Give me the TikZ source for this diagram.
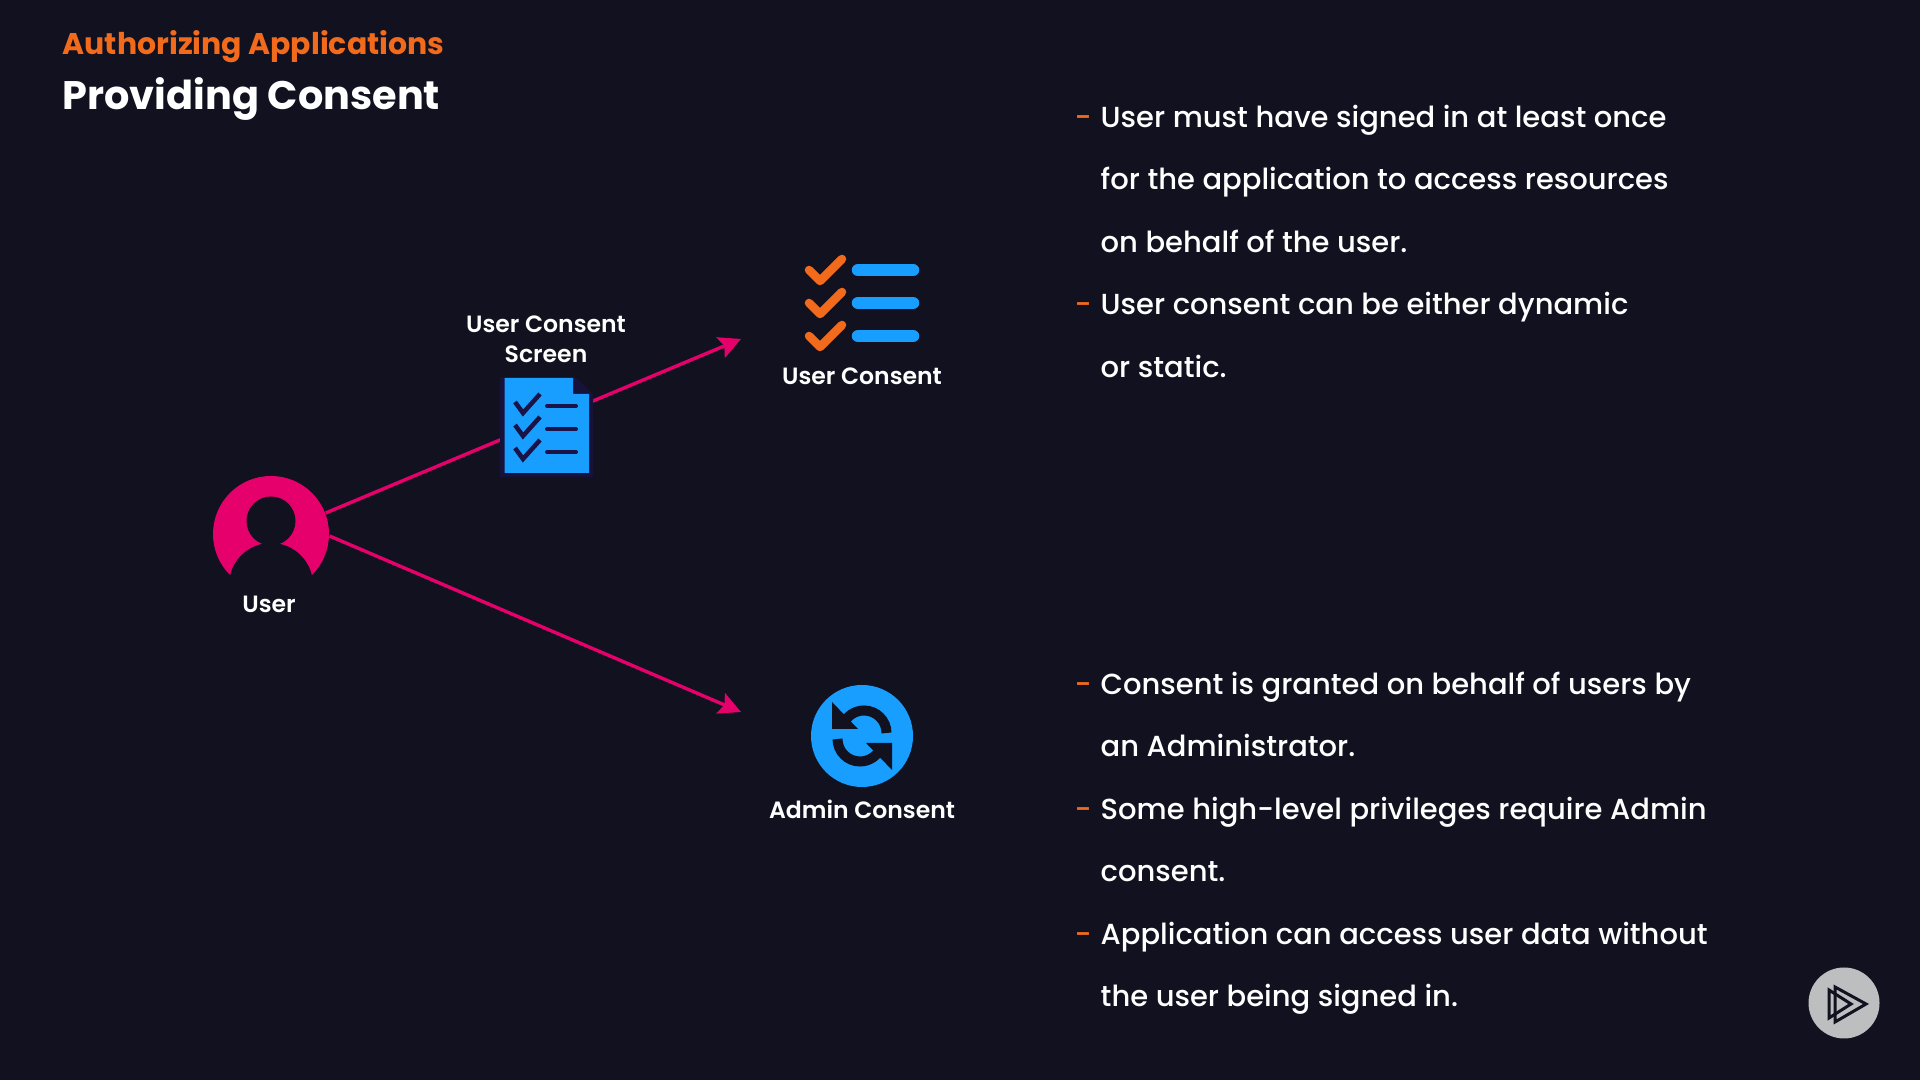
\documentclass[tikz,border=0pt]{standalone}
\usepackage{fontspec}
\usetikzlibrary{arrows.meta}
\setmainfont{Poppins}[UprightFont=* Medium, BoldFont=* SemiBold]
\newfontfamily\headfont{Poppins}[UprightFont=* Bold]
\definecolor{mbg}{HTML}{12111F}
\definecolor{mpink}{HTML}{E6006B}
\definecolor{morange}{HTML}{F26B1D}
\definecolor{mblue}{HTML}{189EFF}
\definecolor{mnavy}{HTML}{1A1348}
\definecolor{mrim}{HTML}{16123A}
\definecolor{mgrey}{HTML}{BDBEC0}
\tikzset{
  bodyline/.style = {anchor = base west, inner sep = 0, text = white, font = \fontsize{8.25}{10}\selectfont},
  bodydash/.style = {anchor = base west, inner sep = 0, text = morange, font = \fontsize{8.25}{10}\selectfont},
  iconlabel/.style = {anchor = base, inner sep = 0, text = white, font = \fontsize{6.7}{8}\selectfont\bfseries},
  consentline/.style = {mpink, line width = 0.034cm, -{Stealth[length = 0.22cm, width = 0.22cm, inset = 0.04cm]}},
  listcheck/.style = {morange, line width = 0.085cm, line cap = round, line join = round},
  listbar/.style = {mblue, line width = 0.125cm, line cap = round},
  doccheck/.style = {mnavy, line width = 0.045cm},
  docbar/.style = {mnavy, line width = 0.04cm, line cap = round},
  logotri/.style = {mbg, line width = 0.03cm, line join = miter}
}
\begin{document}
\begin{tikzpicture}
    \fill [mbg] (0, 0) rectangle (19.2, 10.8);
    \useasboundingbox (0, 0) rectangle (19.2, 10.8);

    \node [anchor = base west, inner sep = 0, text = morange, font = \fontsize{8.52}{10}\selectfont\headfont] (section) at (0.62, 10.25) {Authorizing Applications};
    \node [anchor = base west, inner sep = 0, text = white, font = \fontsize{11.33}{13}\selectfont\headfont] (title) at (0.62, 9.70) {Providing Consent};

    \coordinate (userend) at (7.41, 7.41);
    \coordinate (adminend) at (7.41, 3.68);

    \node [circle, fill = mpink, inner sep = 0, minimum size = 1.16cm] (user) at (2.71, 5.46) {};
    \draw [consentline] (user.21) -- (userend);
    \draw [consentline] (user.-2) -- (adminend);
    \node [circle, fill = mbg, inner sep = 0, minimum size = 0.49cm] (head) at (2.71, 5.59) {};
    \node [circle, fill = mbg, inner sep = 0, minimum size = 0.84cm] (body) at (2.71, 4.95) {};
    \node [iconlabel] (userlabel) at (2.69, 4.67) {User};

    \fill [mrim] (5.00, 7.03) -- (5.75, 7.03) -- (5.93, 6.86) -- (5.93, 6.03) -- (5.00, 6.03) -- cycle;
    \fill [mblue] (5.045, 7.02) -- (5.73, 7.02) -- (5.73, 6.86) -- (5.89, 6.86) -- (5.89, 6.07) -- (5.045, 6.07) -- cycle;
    \draw [doccheck] (5.15, 6.78) -- (5.23, 6.67) -- (5.40, 6.86);
    \draw [doccheck] (5.15, 6.55) -- (5.23, 6.44) -- (5.40, 6.63);
    \draw [doccheck] (5.15, 6.32) -- (5.23, 6.21) -- (5.40, 6.40);
    \draw [docbar] (5.47, 6.74) -- (5.76, 6.74);
    \draw [docbar] (5.47, 6.51) -- (5.76, 6.51);
    \draw [docbar] (5.47, 6.28) -- (5.76, 6.28);
    \node [iconlabel] (screenlabela) at (5.46, 7.47) {User Consent};
    \node [iconlabel] (screenlabelb) at (5.46, 7.17) {Screen};

    \draw [listcheck] (8.09, 8.10) -- (8.20, 7.99) -- (8.42, 8.21);
    \draw [listcheck] (8.09, 7.77) -- (8.20, 7.66) -- (8.42, 7.88);
    \draw [listcheck] (8.09, 7.44) -- (8.20, 7.33) -- (8.42, 7.55);
    \draw [listbar] (8.58, 8.10) -- (9.13, 8.10);
    \draw [listbar] (8.58, 7.77) -- (9.13, 7.77);
    \draw [listbar] (8.58, 7.44) -- (9.13, 7.44);
    \node [iconlabel] (consentlabel) at (8.62, 6.95) {User Consent};

    \node [circle, fill = mblue, inner sep = 0, minimum size = 1.02cm] (admin) at (8.62, 3.44) {};
    \draw [mbg, line width = 0.1cm] (8.64, 3.47) ++(0 : 0.225) arc (0 : 160 : 0.225);
    \fill [mbg] (8.32, 3.78) -- (8.32, 3.51) -- (8.58, 3.51) -- cycle;
    \draw [mbg, line width = 0.1cm] (8.60, 3.41) ++(180 : 0.225) arc (180 : 340 : 0.225);
    \fill [mbg] (8.92, 3.10) -- (8.92, 3.37) -- (8.66, 3.37) -- cycle;
    \node [iconlabel] (adminlabel) at (8.62, 2.61) {Admin Consent};

    \node [bodydash] (dasha) at (10.74, 9.52) {-};
    \node [bodyline] (linea) at (11.00, 9.52) {User must have signed in at least once};
    \node [bodyline] (lineb) at (11.00, 8.90) {for the application to access resources};
    \node [bodyline] (linec) at (11.00, 8.27) {on behalf of the user.};
    \node [bodydash] (dashb) at (10.74, 7.65) {-};
    \node [bodyline] (lined) at (11.00, 7.65) {User consent can be either dynamic};
    \node [bodyline] (linee) at (11.00, 7.02) {or static.};

    \node [bodydash] (dashc) at (10.74, 3.85) {-};
    \node [bodyline] (linef) at (11.00, 3.85) {Consent is granted on behalf of users by};
    \node [bodyline] (lineg) at (11.00, 3.23) {an Administrator.};
    \node [bodydash] (dashd) at (10.74, 2.60) {-};
    \node [bodyline] (lineh) at (11.00, 2.60) {Some high-level privileges require Admin};
    \node [bodyline] (linei) at (11.00, 1.98) {consent.};
    \node [bodydash] (dashe) at (10.74, 1.35) {-};
    \node [bodyline] (linej) at (11.00, 1.35) {Application can access user data without};
    \node [bodyline] (linek) at (11.00, 0.73) {the user being signed in.};

    \node [circle, fill = mgrey, inner sep = 0, minimum size = 0.71cm] (logo) at (18.44, 0.77) {};
    \draw [logotri] (18.29, 0.90) -- (18.29, 0.62) -- (18.51, 0.76) -- cycle;
    \draw [logotri] (18.35, 0.93) -- (18.35, 0.58) -- (18.66, 0.76) -- cycle;
\end{tikzpicture}
\end{document}
